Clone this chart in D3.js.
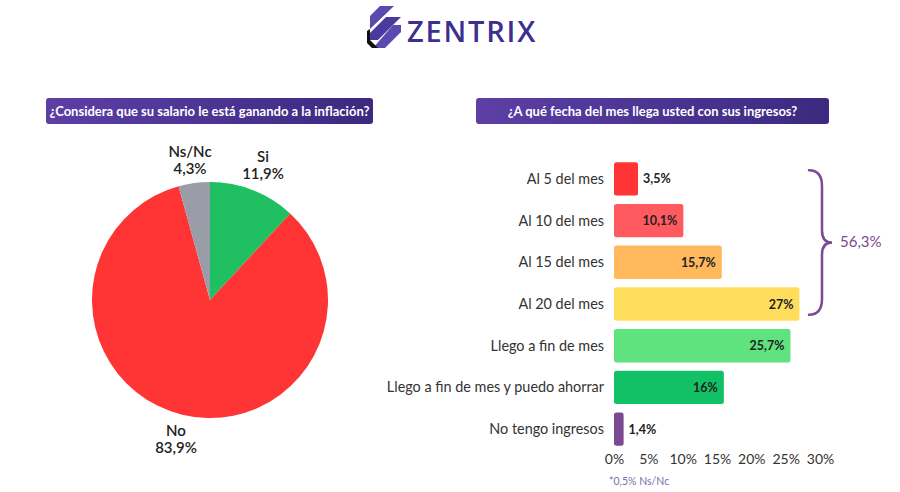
<!DOCTYPE html>
<html><head><meta charset="utf-8">
<script src="https://cdn.jsdelivr.net/npm/d3@7"></script>
<style>body{margin:0;background:#fff;font-family:Lato,"Open Sans",sans-serif;}</style>
</head><body><svg id="c" width="900" height="492"></svg>
<script>
const pieLabels = ["Si","No","Ns/Nc"];
const pieValues = [11.9, 83.9, 4.3];
const pieColors = ["#1fbf62","#ff3434","#9a9ca8"];

const barCategories = ["Al 5 del mes","Al 10 del mes","Al 15 del mes","Al 20 del mes","Llego a fin de mes","Llego a fin de mes y puedo ahorrar","No tengo ingresos"];
const barValues = [3.5, 10.1, 15.7, 27, 25.7, 16, 1.4];
const barLabels = ["3,5%","10,1%","15,7%","27%","25,7%","16%","1,4%"];
const barColors = ["#ff3434","#ff5a60","#ffb85c","#ffdd5c","#5fe37f","#12c165","#7b4a93"];
const xTicks = [0,5,10,15,20,25,30];
const braceLabel = "56,3%";

(function(){
const svg = d3.select("#c");
const defs = svg.append("defs");
const g1 = defs.append("linearGradient").attr("id","tg").attr("x1","0").attr("x2","1");
g1.append("stop").attr("offset","0").attr("stop-color","#5d3fa6");
g1.append("stop").attr("offset","1").attr("stop-color","#3b2a80");

// Logo
const logo = svg.append("g");
const lc = "#3d2f8f";
logo.append("path").attr("d","M380 6 L394 6 L370 29 L370 16 Z").attr("fill","#5a49b0");
logo.append("path").attr("d","M386 17 L401 17 L378 40 L370 40 L370 33 Z").attr("fill","#4a3aa0");
logo.append("path").attr("d","M393 25 L401 25 L401 32 L385 48 L373 48 Z").attr("fill","#5a49b0");
logo.append("path").attr("d","M370 29 L370 40 L378 48 L372 48 L367 43 L367 31 Z").attr("fill","#111");
logo.append("text").attr("x",407).attr("y",42).attr("font-family","'Open Sans',sans-serif").attr("font-weight",600)
  .attr("font-size",29).attr("letter-spacing",1.8).attr("fill",lc).text("ZENTRIX");

// Title boxes
function titleBox(x,y,w,h,txt){
  svg.append("rect").attr("x",x).attr("y",y).attr("width",w).attr("height",h).attr("rx",3).attr("fill","url(#tg)");
  svg.append("text").attr("x",x+w/2).attr("y",y+h/2+4.5).attr("text-anchor","middle").attr("fill","#fff")
    .attr("font-size",13).attr("font-weight",700).text(txt);
}
titleBox(46,98,327,26,"¿Considera que su salario le está ganando a la inflación?");
titleBox(476,98,353,26,"¿A qué fecha del mes llega usted con sus ingresos?");

// Pie
const pie = d3.pie().sort(null).value(d=>d)(pieValues);
const arc = d3.arc().innerRadius(0).outerRadius(118);
const pg = svg.append("g").attr("transform","translate(210,300)");
pg.selectAll("path").data(pie).join("path").attr("d",arc).attr("fill",(d,i)=>pieColors[i]);
const pieLabelPos = [[263,162],[176,436],[190,157]];
pieLabels.forEach((l,i)=>{
  const t = svg.append("text").attr("text-anchor","middle").attr("font-size",15).attr("font-weight",600).attr("fill","#222");
  t.append("tspan").attr("x",pieLabelPos[i][0]).attr("y",pieLabelPos[i][1]).text(l);
  t.append("tspan").attr("x",pieLabelPos[i][0]).attr("y",pieLabelPos[i][1]+17).text(pieValues[i].toString().replace(".",",")+"%");
});

// Bars
const x = d3.scaleLinear().domain([0,30]).range([614,820]);
const y = d3.scaleBand().domain(barCategories).range([158,450]).paddingInner(0.2).paddingOuter(0.1);
const bg = svg.append("g");
bg.selectAll("rect").data(barValues).join("rect")
  .attr("x",x(0)).attr("y",(d,i)=>y(barCategories[i])).attr("width",d=>x(d)-x(0)).attr("height",y.bandwidth())
  .attr("rx",2.5).attr("fill",(d,i)=>barColors[i]);
bg.selectAll("text.cat").data(barCategories).join("text").attr("class","cat")
  .attr("x",604).attr("y",d=>y(d)+y.bandwidth()/2+5).attr("text-anchor","end").attr("font-size",14.4).attr("fill","#333").text(d=>d);
bg.selectAll("text.val").data(barValues).join("text").attr("class","val")
  .attr("x",d=> d<5 ? x(d)+5 : x(d)-6)
  .attr("text-anchor",d=> d<5 ? "start":"end")
  .attr("y",(d,i)=>y(barCategories[i])+y.bandwidth()/2+4.5)
  .attr("font-size",12.5).attr("font-weight",700).attr("fill","#222").text((d,i)=>barLabels[i]);

const ax = svg.append("g").attr("transform","translate(0,454)")
  .call(d3.axisBottom(x).tickValues(xTicks).tickFormat(d=>d+"%").tickSize(0).tickPadding(0));
ax.select(".domain").remove();
ax.selectAll("text").attr("font-family","Lato,sans-serif").attr("font-size",14).attr("fill","#333").attr("dy","0.71em");

// Brace
const bTop = y(barCategories[0])+8, bBot = y(barCategories[3])+y.bandwidth()-6, mid=(bTop+bBot)/2;
svg.append("path").attr("fill","none").attr("stroke","#7b4a93").attr("stroke-width",2.5).attr("stroke-linecap","round")
  .attr("d",`M809 ${bTop} Q822 ${bTop} 822 ${bTop+16} L822 ${mid-12} Q822 ${mid} 832 ${mid} Q822 ${mid} 822 ${mid+12} L822 ${bBot-16} Q822 ${bBot} 809 ${bBot}`);
svg.append("text").attr("x",840).attr("y",mid+5).attr("font-size",15).attr("fill","#7b4a93").text(braceLabel);

svg.append("text").attr("x",609).attr("y",485).attr("font-size",10.5).attr("fill","#7a70a8").text("*0,5% Ns/Nc");
})();
</script></body></html>
